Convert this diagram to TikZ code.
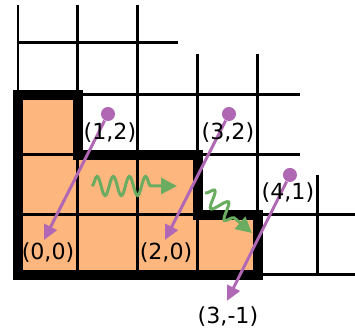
\documentclass[tikz,border=0pt]{standalone}
\usepackage{fontspec}
\setmainfont{DejaVu Sans}
\usetikzlibrary{arrows.meta,decorations.pathmorphing}
\definecolor{cellfill}{RGB}{254,182,127}
\definecolor{arrpurple}{RGB}{176,104,180}
\definecolor{arrgreen}{RGB}{106,172,96}
\begin{document}
\begin{tikzpicture}[
  gridline/.style={line width=1.42pt, black},
  cellborder/.style={line width=4.72pt, black},
  lbl/.style={font=\fontsize{10.5}{12}\selectfont, inner sep=0pt},
  jump/.style={arrpurple, line width=1.42pt, -{Triangle[length=7pt,width=6.5pt]}},
  startdot/.style={circle, fill=arrpurple, inner sep=0pt, minimum size=0.234cm},
  wave/.style={arrgreen, line width=1.42pt, -{Triangle[length=7.5pt,width=7.5pt]},
    decorate, decoration={snake, amplitude=0.16cm, segment length=0.27cm, post length=0.32cm}},
]
\useasboundingbox (-0.3,-0.917) rectangle (5.617,4.583);
% cells
\fill[cellfill] (0,0) -- (4,0) -- (4,1) -- (3,1) -- (3,2) -- (1,2) -- (1,3) -- (0,3) -- cycle;
% grid
\draw[gridline] (0,3.867) -- (2.667,3.867);
\draw[gridline] (0,3) -- (4.7,3);
\draw[gridline] (0,2) -- (4.7,2);
\draw[gridline] (0,1) -- (5.7,1);
\draw[gridline] (0,0) -- (5.7,0);
\draw[gridline] (0,0) -- (0,4.5);
\draw[gridline] (1,0) -- (1,4.5);
\draw[gridline] (2,0) -- (2,4.5);
\draw[gridline] (3,0) -- (3,3.683);
\draw[gridline] (4,0) -- (4,3.683);
\draw[gridline] (5,0) -- (5,1.667);
% outline
\draw[cellborder] (0,0) -- (4,0) -- (4,1) -- (3,1) -- (3,2) -- (1,2) -- (1,3) -- (0,3) -- cycle;
% green moves
\coordinate (g1s) at (1.233,1.483);
\coordinate (g1e) at (2.65,1.483);
\draw[wave] (g1s) -- (g1e);
\coordinate (g2s) at (3.117,1.367);
\coordinate (g2e) at (3.9,0.7);
\draw[wave, decoration={snake, amplitude=0.14cm, segment length=0.3cm, post length=0.3cm}] (g2s) -- (g2e);
% purple jumps
\coordinate (t00) at (0.433,0.583);
\coordinate (t20) at (2.45,0.583);
\coordinate (t3m1) at (3.483,-0.433);
\node[startdot] (d12) at (1.5,2.683) {};
\node[startdot] (d32) at (3.517,2.683) {};
\node[startdot] (d41) at (4.533,1.667) {};
\draw[jump] (d12) -- (t00);
\draw[jump] (d32) -- (t20);
\draw[jump] (d41) -- (t3m1);
% labels
\node[lbl] (l12) at (1.533,2.367) {(1,2)};
\node[lbl] (l00) at (0.5,0.367) {(0,0)};
\node[lbl] (l32) at (3.5,2.367) {(3,2)};
\node[lbl] (l20) at (2.467,0.367) {(2,0)};
\node[lbl] (l41) at (4.5,1.367) {(4,1)};
\node[lbl] (l3m1) at (3.5,-0.7) {(3,-1)};
\end{tikzpicture}
\end{document}
